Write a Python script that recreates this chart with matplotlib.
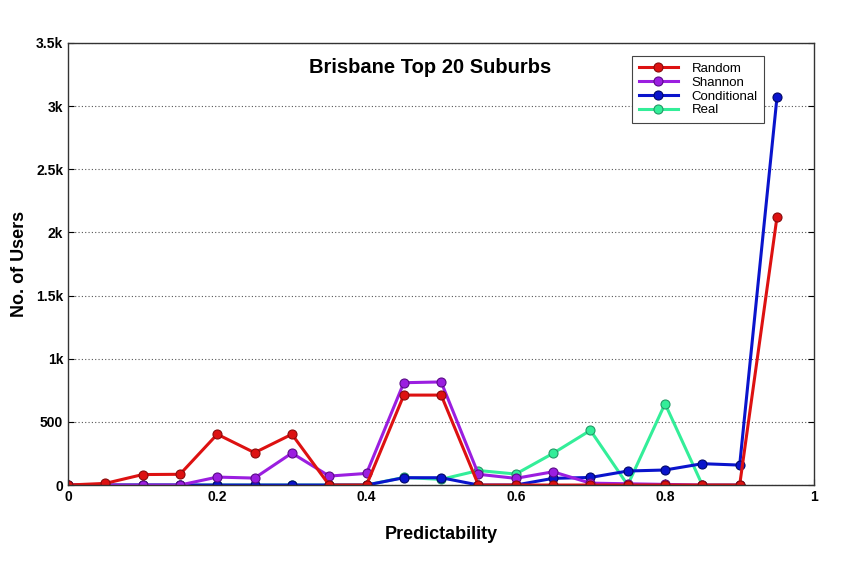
import matplotlib
matplotlib.use("Agg")
import matplotlib.pyplot as plt
import numpy as np

plt.rcParams['font.family'] = ['Liberation Sans', 'DejaVu Sans']

predictability = [0.0, 0.05, 0.1, 0.15, 0.2, 0.25, 0.3, 0.35, 0.4, 0.45,
                  0.5, 0.55, 0.6, 0.65, 0.7, 0.75, 0.8, 0.85, 0.9, 0.95]

random_users = [0, 13, 83, 85, 402, 256, 402, 0, 0, 712,
                712, 0, 0, 0, 0, 0, 0, 0, 0, 2121]
shannon_users = [0, 0, 0, 0, 63, 55, 253, 71, 92, 810,
                 816, 85, 53, 105, 15, 10, 5, 0, 0]
conditional_users = [0, 0, 0, 0, 0, 0, 0, 0, 0, 58,
                     58, 0, 0, 53, 60, 111, 119, 169, 158, 3069]
real_users = [0, 0, 0, 0, 0, 0, 0, 0, 0, 60,
              45, 115, 87, 251, 433, 0, 644, 0, 0]

series = [
    ("Real", real_users, "#33ee99", "#229966"),
    ("Conditional", conditional_users, "#0a14cc", "#00086a"),
    ("Shannon", shannon_users, "#9b1ee0", "#5a0a88"),
    ("Random", random_users, "#dd1111", "#8a0a0a"),
]

fig = plt.figure(figsize=(8.5, 5.64), dpi=100)
ax = fig.add_axes([0.08, 0.14, 0.878, 0.784])

handles = {}
for name, vals, col, edge in series:
    h, = ax.plot(predictability[:len(vals)], vals, color=col, lw=2.2,
                 marker="o", ms=6.5, mfc=col, mec=edge, mew=0.8, label=name)
    handles[name] = h

ax.set_xlim(0, 1)
ax.set_ylim(0, 3500)
ax.set_xticks(np.arange(0, 1.01, 0.2))
ax.set_xticklabels(["0", "0.2", "0.4", "0.6", "0.8", "1"])
ax.set_yticks(np.arange(0, 3501, 500))
ax.set_yticklabels(["0", "500", "1k", "1.5k", "2k", "2.5k", "3k", "3.5k"])
ax.tick_params(axis="both", labelsize=10, direction="in", length=4,
               right=True, top=False)
for lab in ax.get_xticklabels() + ax.get_yticklabels():
    lab.set_fontweight("bold")
ax.yaxis.grid(True, linestyle=(0, (1, 2)), color="#555555", lw=0.8)
for sp in ax.spines.values():
    sp.set_color("#333333")
    sp.set_linewidth(1.0)

ax.set_xlabel("Predictability", fontsize=13, fontweight="bold")
ax.xaxis.set_label_coords(0.5, -0.092)
ax.set_ylabel("No. of Users", fontsize=13, fontweight="bold")
ax.yaxis.set_label_coords(-0.054, 0.5)

fig.text(0.506, 0.88, "Brisbane Top 20 Suburbs", fontsize=14.5, fontweight="bold",
         ha="center", va="center")

order = ["Random", "Shannon", "Conditional", "Real"]
leg = ax.legend([handles[n] for n in order], order, loc="upper left",
                bbox_to_anchor=(0.747, 0.985), fontsize=9.5, frameon=True,
                fancybox=False, edgecolor="#444444", handlelength=3.0,
                labelspacing=0.12, borderpad=0.5, handletextpad=1.0,
                framealpha=1)
leg.get_frame().set_linewidth(0.8)
leg.set_zorder(10)

fig.savefig("out.png", dpi=100)
